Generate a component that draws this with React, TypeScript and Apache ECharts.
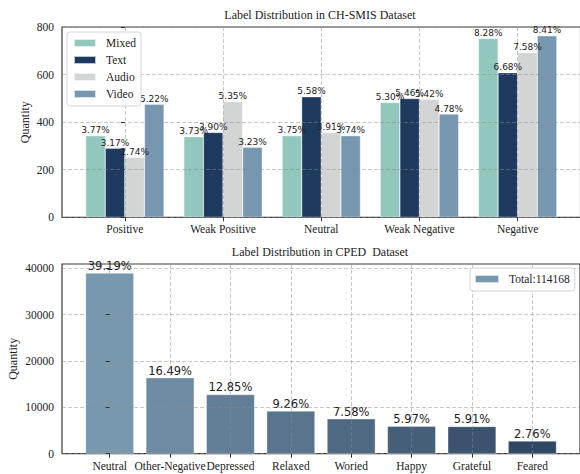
import React, { useEffect, useRef } from 'react';
import * as echarts from 'echarts';

// ---- CH-SMIS data ----
const smisCategories = ['Positive', 'Weak Positive', 'Neutral', 'Weak Negative', 'Negative'];
const smisSeriesNames = ['Mixed', 'Text', 'Audio', 'Video'];
const mixedValues = [343, 339, 343, 483, 752];
const textValues = [290, 357, 507, 499, 608];
const audioValues = [252, 486, 356, 496, 692];
const videoValues = [475, 294, 343, 434, 763];
const mixedPct = ['3.77', '3.73', '3.75', '5.30', '8.28'];
const textPct = ['3.17', '3.90', '5.58', '5.46', '6.68'];
const audioPct = ['2.74', '5.35', '3.91', '5.42', '7.58'];
const videoPct = ['5.22', '3.23', '3.74', '4.78', '8.41'];
const smisYTicks = [0, 200, 400, 600, 800];
const smisTitle = 'Label Distribution in CH-SMIS Dataset';

// ---- CPED data ----
const cpedCategories = ['Neutral', 'Other-Negative', 'Depressed', 'Relaxed', 'Woried', 'Happy', 'Grateful', 'Feared'];
const cpedValues = [39000, 16410, 12790, 9210, 7540, 5940, 5880, 2750];
const cpedPct = ['39.19', '16.49', '12.85', '9.26', '7.58', '5.97', '5.91', '2.76'];
const cpedYTicks = [0, 10000, 20000, 30000, 40000];
const cpedTotalLabel = 'Total:114168';
const cpedTitle = 'Label Distribution in CPED  Dataset';

// styles
const smisColors = ['#91c7bd', '#1e3a5f', '#d3d4d4', '#7797b0'];
const cpedColors = ['#7898ae', '#6d8ba2', '#637f97', '#59748c', '#4f6982', '#465f79', '#3b536e', '#2e4866'];

const SERIF = '"Liberation Serif", "DejaVu Serif", serif';
const SANS = '"DejaVu Sans", sans-serif';

export default function App() {
  const ref = useRef<HTMLDivElement>(null);

  useEffect(() => {
    document.body.style.margin = '0';
    if (!ref.current) return;
    const chart = echarts.init(ref.current, undefined, { renderer: 'svg' });

    const smisValues = [mixedValues, textValues, audioValues, videoValues];
    const smisPcts = [mixedPct, textPct, audioPct, videoPct];

    const splitLine = {
      show: true,
      lineStyle: { color: 'rgba(140,140,140,0.6)', type: [4, 2] as any, width: 0.8 },
    };
    const tick = { show: true, inside: false, length: 4, lineStyle: { color: '#333', width: 1 } };
    const labelStyle = { fontFamily: SERIF, fontSize: 11.5, color: '#222' };
    const plain = (v: number) => String(v);

    const option: any = {
      animation: false,
      backgroundColor: '#ffffff',
      graphic: [
        {
          type: 'text', x: 320, y: 15, z: 10,
          style: { text: smisTitle, font: `12px ${SERIF}`, fill: '#222', align: 'center', verticalAlign: 'middle', textAlign: 'center', textVerticalAlign: 'middle' },
        },
        {
          type: 'text', x: 320, y: 252, z: 10,
          style: { text: cpedTitle, font: `12px ${SERIF}`, fill: '#222', align: 'center', verticalAlign: 'middle', textAlign: 'center', textVerticalAlign: 'middle' },
        },
      ],
      grid: [
        { left: 62, top: 27, width: 518.5, height: 190.3, show: true, borderColor: '#3a3a3a', borderWidth: 1.2, backgroundColor: 'transparent', containLabel: false, outerBoundsMode: 'none' },
        { left: 62, top: 264, width: 518, height: 189.7, show: true, borderColor: '#3a3a3a', borderWidth: 1.2, backgroundColor: 'transparent', containLabel: false, outerBoundsMode: 'none' },
      ],
      legend: [
        {
          data: smisSeriesNames,
          orient: 'vertical',
          left: 67, top: 32,
          itemWidth: 22, itemHeight: 8, itemGap: 3,
          icon: 'rect',
          textStyle: { fontFamily: SERIF, fontSize: 11.5, color: '#222', lineHeight: 14, padding: [0, 0, 0, 5] },
          backgroundColor: '#ffffff', borderColor: '#d4d4d4', borderWidth: 1, borderRadius: 3,
          padding: [4, 5, 5, 6],
        },
        {
          data: [cpedTotalLabel],
          orient: 'vertical',
          left: 470, top: 268,
          itemWidth: 24, itemHeight: 8, itemGap: 3,
          icon: 'rect',
          textStyle: { fontFamily: SERIF, fontSize: 11.5, color: '#222', lineHeight: 14, padding: [0, 0, 0, 5] },
          backgroundColor: '#ffffff', borderColor: '#d4d4d4', borderWidth: 1, borderRadius: 3,
          padding: [4, 5, 5, 4],
        },
      ],
      xAxis: [
        {
          type: 'value', gridIndex: 0, min: -0.64, max: 4.64, z: 3,
          axisLine: { show: false },
          axisTick: { ...tick, customValues: smisCategories.map((_, i) => i) },
          axisLabel: { ...labelStyle, margin: 6, hideOverlap: false, customValues: smisCategories.map((_, i) => i), formatter: (v: number) => smisCategories[Math.round(v)] ?? '' },
          splitLine,
        },
        {
          type: 'value', gridIndex: 1, min: -0.79, max: 7.79, z: 3,
          axisLine: { show: false },
          axisTick: { ...tick, customValues: cpedCategories.map((_, i) => i) },
          axisLabel: { ...labelStyle, margin: 6, hideOverlap: false, customValues: cpedCategories.map((_, i) => i), formatter: (v: number) => cpedCategories[Math.round(v)] ?? '' },
          splitLine,
        },
      ],
      yAxis: [
        {
          type: 'value', gridIndex: 0, min: 0, max: 800, interval: 200, z: 3,
          name: 'Quantity', nameLocation: 'middle', nameGap: 31, nameRotate: 90, nameMoveOverlap: false,
          nameTextStyle: { fontFamily: SERIF, fontSize: 12, color: '#222' },
          axisLine: { show: false },
          axisTick: { ...tick, customValues: smisYTicks },
          axisLabel: { ...labelStyle, margin: 8, customValues: smisYTicks, formatter: plain },
          splitLine,
        },
        {
          type: 'value', gridIndex: 1, min: 0, max: 40950, z: 3,
          name: 'Quantity', nameLocation: 'middle', nameGap: 43, nameRotate: 90, nameMoveOverlap: false,
          nameTextStyle: { fontFamily: SERIF, fontSize: 12, color: '#222' },
          axisLine: { show: false },
          axisTick: { ...tick, customValues: cpedYTicks },
          axisLabel: { ...labelStyle, margin: 8, customValues: cpedYTicks, formatter: plain },
          splitLine,
        },
      ],
      series: [
        ...smisSeriesNames.map((name, k) => ({
          type: 'bar',
          name,
          xAxisIndex: 0,
          yAxisIndex: 0,
          data: smisValues[k].map((v, i) => [i, v]),
          barWidth: 19.6,
          barGap: '0%',
          itemStyle: { color: smisColors[k], borderColor: 'rgba(255,255,255,0.7)', borderWidth: 0.5 },
          label: {
            show: true, position: 'top', distance: 1,
            formatter: (p: any) => smisPcts[k][p.dataIndex] + '%',
            fontFamily: SANS, fontSize: 9, color: '#222',
          },
        })),
        {
          type: 'bar',
          name: cpedTotalLabel,
          xAxisIndex: 1,
          yAxisIndex: 1,
          barWidth: 48.3,
          itemStyle: { color: cpedColors[0], borderColor: 'rgba(255,255,255,0.7)', borderWidth: 0.5 },
          data: cpedValues.map((v, i) => ({ value: [i, v], itemStyle: { color: cpedColors[i] } })),
          label: {
            show: true, position: 'top', distance: 1,
            formatter: (p: any) => cpedPct[p.dataIndex] + '%',
            fontFamily: SANS, fontSize: 11.5, color: '#222',
          },
        },
      ],
    };

    chart.setOption(option);
    return () => chart.dispose();
  }, []);

  return <div ref={ref} style={{ width: 580, height: 474 }} />;
}
